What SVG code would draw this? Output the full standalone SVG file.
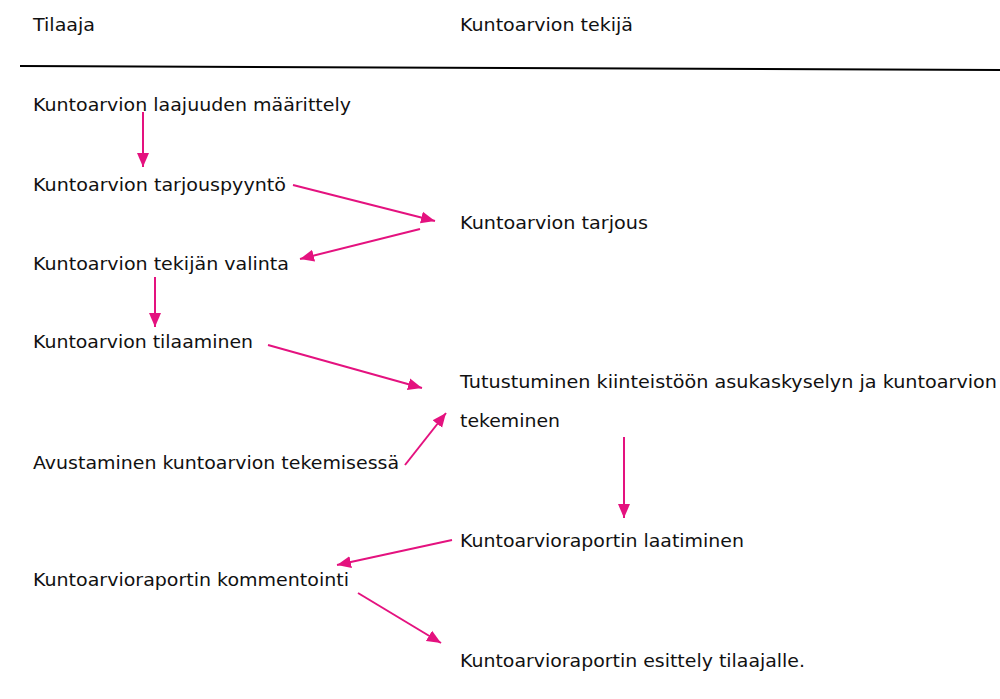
<svg xmlns="http://www.w3.org/2000/svg" width="1000" height="699" viewBox="0 0 1000 699">
<defs>
<style>
text{font-family:"DejaVu Sans","Liberation Sans",sans-serif;font-size:18.5px;fill:#111;}
.c{stroke:#e4127f;stroke-width:2;fill:none;marker-end:url(#ah);}
</style>
<marker id="ah" markerUnits="userSpaceOnUse" markerWidth="15" markerHeight="15" viewBox="0 0 15 15" refX="14" refY="7.5" orient="auto">
<path d="M0,1.5 L14,7.5 L0,13.5 Z" fill="#e4127f"/>
</marker>
</defs>
<rect width="1000" height="699" fill="#fff"/>
<g id="header">
<text x="33" y="31" textLength="62" lengthAdjust="spacingAndGlyphs">Tilaaja</text>
<text x="460" y="31" textLength="173" lengthAdjust="spacingAndGlyphs">Kuntoarvion tekijä</text>
<line x1="20" y1="66" x2="1000" y2="70" stroke="#000" stroke-width="2"/>
</g>
<g id="n1"><text x="33" y="111" textLength="318" lengthAdjust="spacingAndGlyphs">Kuntoarvion laajuuden määrittely</text></g>
<g id="n2"><text x="33" y="191" textLength="253" lengthAdjust="spacingAndGlyphs">Kuntoarvion tarjouspyyntö</text></g>
<g id="n3"><text x="460" y="229" textLength="188" lengthAdjust="spacingAndGlyphs">Kuntoarvion tarjous</text></g>
<g id="n4"><text x="33" y="270" textLength="256" lengthAdjust="spacingAndGlyphs">Kuntoarvion tekijän valinta</text></g>
<g id="n5"><text x="33" y="348" textLength="220" lengthAdjust="spacingAndGlyphs">Kuntoarvion tilaaminen</text></g>
<g id="n6"><text x="460" y="388" textLength="537" lengthAdjust="spacingAndGlyphs">Tutustuminen kiinteistöön asukaskyselyn ja kuntoarvion</text>
<text x="460" y="427" textLength="100" lengthAdjust="spacingAndGlyphs">tekeminen</text></g>
<g id="n7"><text x="33" y="469" textLength="366" lengthAdjust="spacingAndGlyphs">Avustaminen kuntoarvion tekemisessä</text></g>
<g id="n8"><text x="460" y="547" textLength="284" lengthAdjust="spacingAndGlyphs">Kuntoarvioraportin laatiminen</text></g>
<g id="n9"><text x="33" y="586" textLength="316" lengthAdjust="spacingAndGlyphs">Kuntoarvioraportin kommentointi</text></g>
<g id="n10"><text x="460" y="667" textLength="345" lengthAdjust="spacingAndGlyphs">Kuntoarvioraportin esittely tilaajalle.</text></g>
<g id="connectors">
<line class="c" x1="143" y1="112" x2="143" y2="167"/>
<line class="c" x1="293" y1="185" x2="435" y2="221"/>
<line class="c" x1="420" y1="229" x2="300" y2="259"/>
<line class="c" x1="155" y1="277" x2="155" y2="327"/>
<line class="c" x1="268" y1="345" x2="422" y2="388"/>
<line class="c" x1="405" y1="465" x2="446" y2="413"/>
<line class="c" x1="624" y1="437" x2="624" y2="518"/>
<line class="c" x1="452" y1="540" x2="337" y2="565"/>
<line class="c" x1="358" y1="593" x2="441" y2="643"/>
</g>
</svg>
